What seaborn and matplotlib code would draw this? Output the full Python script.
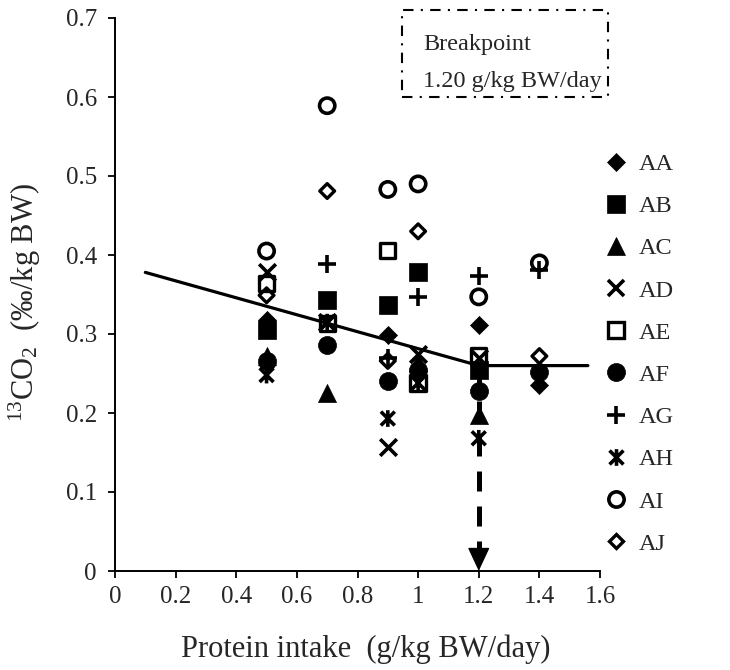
import numpy as np
import pandas as pd
import matplotlib
matplotlib.use("Agg")
import matplotlib.pyplot as plt
import seaborn as sns
from matplotlib.path import Path
from matplotlib.lines import Line2D
from matplotlib.patches import Rectangle

# ---------------- data ----------------
intake = [0.5, 0.7, 0.9, 1.0, 1.2, 1.4]
nan = np.nan
AA = [0.318, nan, 0.299, nan, 0.311, 0.235]
AB = [0.305, 0.343, 0.337, 0.379, 0.255, nan]
AC = [0.272, 0.225, nan, 0.265, 0.198, nan]
AD = [0.378, 0.315, 0.157, 0.275, 0.270, nan]
AE = [0.364, 0.313, 0.406, 0.238, 0.272, nan]
AF = [0.266, 0.286, 0.240, 0.255, 0.228, 0.252]
AG = [nan, 0.388, 0.270, 0.347, 0.373, 0.381]
AH = [0.248, 0.315, 0.193, 0.238, 0.168, nan]
AI = [0.405, 0.589, 0.483, 0.490, 0.347, 0.390]
AJ = [0.349, 0.481, 0.266, 0.430, nan, 0.272]
subjects = ["AA", "AB", "AC", "AD", "AE", "AF", "AG", "AH", "AI", "AJ"]
series = [AA, AB, AC, AD, AE, AF, AG, AH, AI, AJ]

fit_x = [0.1, 1.2, 1.56]
fit_y = [0.378, 0.26, 0.26]
breakpoint_x = 1.20
plateau_y = 0.26

xticks = [0, 0.2, 0.4, 0.6, 0.8, 1.0, 1.2, 1.4, 1.6]
xticklabels = ["0", "0.2", "0.4", "0.6", "0.8", "1", "1.2", "1.4", "1.6"]
yticks = [0, 0.1, 0.2, 0.3, 0.4, 0.5, 0.6, 0.7]
yticklabels = ["0", "0.1", "0.2", "0.3", "0.4", "0.5", "0.6", "0.7"]

# ---------------- style ----------------
sns.set_style("ticks")
plt.rcParams["font.family"] = ["Liberation Serif", "DejaVu Serif"]
plt.rcParams["mathtext.fontset"] = "custom"
plt.rcParams["mathtext.rm"] = "Liberation Serif"
plt.rcParams["mathtext.it"] = "Liberation Serif:italic"
plt.rcParams["mathtext.default"] = "regular"
FS = 18
FS_TITLE = 22
FS_LEG = 17.5

asterisk = Path([(-1, -1), (1, 1), (-1, 1), (1, -1), (0, -1.2), (0, 1.2)],
                [Path.MOVETO, Path.LINETO, Path.MOVETO, Path.LINETO, Path.MOVETO, Path.LINETO])

# marker, size(pt), kind ("fill" = solid, "open" = hollow outline, "line" = stroke marker), edge width
styles = {
    "AA": ("D", 9.2, "fill", 0.5),
    "AB": ("s", 12.5, "fill", 0.5),
    "AC": ("^", 13.0, "fill", 0.5),
    "AD": ("x", 12.0, "line", 2.6),
    "AE": ("s", 11.0, "open", 2.4),
    "AF": ("o", 13.0, "fill", 0.5),
    "AG": ("+", 12.5, "line", 2.6),
    "AH": (asterisk, 12.0, "open", 2.6),
    "AI": ("o", 11.0, "open", 2.6),
    "AJ": ("D", 7.5, "open", 2.4),
}

rows = []
for name, vals in zip(subjects, series):
    for xv, yv in zip(intake, vals):
        rows.append({"subject": name, "intake": xv, "co2": yv})
df = pd.DataFrame(rows).dropna()

fig = plt.figure(figsize=(7.3, 6.7), dpi=100)
ax = fig.add_axes([115 / 730, 1 - 571 / 670, 485 / 730, 553 / 670])

# fitted broken-line
sns.lineplot(x=fit_x, y=fit_y, ax=ax, color="black", lw=2.3, zorder=2,
             sort=False, estimator=None)

# dashed arrow from breakpoint down to x axis
ax.plot([breakpoint_x, breakpoint_x], [plateau_y, 0.022], color="black",
        lw=3.6, ls=(0, (4, 3)), zorder=2, dash_capstyle="butt")
ax.annotate("", xy=(breakpoint_x, 0.0), xytext=(breakpoint_x, 0.028),
            arrowprops=dict(arrowstyle="-|>,head_length=0.75,head_width=0.35",
                            color="black", lw=1, shrinkA=0, shrinkB=0,
                            mutation_scale=20), zorder=3)

for name in subjects:
    m, ms, kind, lw = styles[name]
    sub = df[df["subject"] == name]
    if len(sub) == 0:
        continue
    if kind == "fill":
        sns.scatterplot(data=sub, x="intake", y="co2", marker=m, s=ms ** 2,
                        facecolor="black", edgecolor="black",
                        linewidth=lw, ax=ax, zorder=4, legend=False)
    elif kind == "open":
        sns.scatterplot(data=sub, x="intake", y="co2", marker=m, s=ms ** 2,
                        facecolor="none", edgecolor="black",
                        linewidth=lw, ax=ax, zorder=4, legend=False)
    else:
        sns.scatterplot(data=sub, x="intake", y="co2", marker=m, s=ms ** 2,
                        color="black", linewidth=lw, ax=ax, zorder=4, legend=False)

ax.set_xlim(0, 1.6)
ax.set_ylim(0, 0.7)
ax.set_xticks(xticks)
ax.set_xticklabels(xticklabels, fontsize=FS)
ax.set_yticks(yticks)
ax.set_yticklabels(yticklabels, fontsize=FS)
ax.tick_params(axis="both", direction="out", length=5, width=1.3, color="black")
ax.tick_params(axis="x", pad=6)
ax.tick_params(axis="y", pad=8)
for s in ["top", "right"]:
    ax.spines[s].set_visible(False)
for s in ["left", "bottom"]:
    ax.spines[s].set_linewidth(1.4)
    ax.spines[s].set_color("black")

ax.set_xlabel("Protein intake  (g/kg BW/day)", fontsize=FS_TITLE)
ax.set_ylabel(r"$^{13}$CO$_{2}$  (‰/kg BW)", fontsize=FS_TITLE)
ax.xaxis.set_label_coords(0.518, -0.114)
ax.yaxis.set_label_coords(-0.148, 0.485)

# legend
handles = []
for name in subjects:
    m, ms, kind, lw = styles[name]
    handles.append(Line2D([], [], ls="none", marker=m, markersize=ms,
                          markerfacecolor="none" if kind == "open" else "black",
                          markeredgecolor="black", markeredgewidth=lw))
fig.legend(handles, subjects, loc="upper left",
           bbox_to_anchor=(604 / 730, 1 - 153 / 670),
           frameon=False, borderpad=0, borderaxespad=0, handlelength=1.0,
           handletextpad=0.45, labelspacing=0.83, fontsize=FS_LEG)

# breakpoint box
box = Rectangle((402 / 730, 1 - 97 / 670), 206 / 730, 87 / 670,
                transform=fig.transFigure, fill=False, edgecolor="black",
                lw=1.5, ls=(0, (5, 3.5, 1, 3.5)))
fig.patches.append(box)
fig.text(423 / 730, 1 - 50 / 670, "Breakpoint", fontsize=FS_LEG, va="baseline", ha="left")
fig.text(423 / 730, 1 - 87 / 670, f"{breakpoint_x:.2f} g/kg BW/day", fontsize=FS_LEG,
         va="baseline", ha="left")

fig.savefig("out.png", dpi=100)
